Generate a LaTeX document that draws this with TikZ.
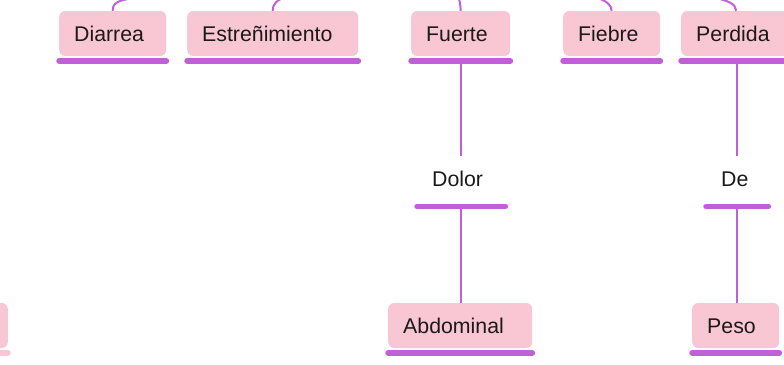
\documentclass[tikz,border=0pt]{standalone}
\usepackage{fontspec}
\setmainfont{Liberation Sans}
\definecolor{boxpink}{HTML}{F9C6D3}
\definecolor{linepurple}{HTML}{C060D6}
\definecolor{txt}{HTML}{1A1A1A}
\begin{document}
\begin{tikzpicture}[x=1pt,y=-1pt,
 box/.style={rounded corners=6pt, fill=boxpink, minimum height=45pt, inner xsep=15pt, inner ysep=0pt,
   align=left, text=txt, font=\fontsize{21.3}{25}\selectfont, text height=15.3pt, text depth=0pt, anchor=west},
 lbl/.style={box, fill=none},
 uline/.style={linepurple, line width=5.5pt, line cap=round},
 conn/.style={linepurple, line width=2pt}]
\useasboundingbox (0,0) rectangle (784,364);
\clip (0,0) rectangle (784,364);
% nodes
\node[box, text width=77pt] (diarrea) at (59,33.5) {Diarrea};
\node[box, text width=141pt] (estr) at (187,33.5) {Estreñimiento};
\node[box, text width=69pt] (fuerte) at (411,33.5) {Fuerte};
\node[box, text width=67pt] (fiebre) at (563,33.5) {Fiebre};
\node[box, text width=80pt] (perdida) at (681,33.5) {Perdida};
\node[lbl, text width=58pt] (dolor) at (417,179) {Dolor};
\node[lbl, text width=32pt] (de) at (706,179) {De};
\node[box, text width=114pt] (abdominal) at (388,325.5) {Abdominal};
\node[box, text width=57pt] (peso) at (692,325.5) {Peso};
\node[box, text width=70pt, anchor=east] (leftbox) at (8,325.5) {};
% underlines
\foreach \n in {diarrea,estr,fuerte,fiebre,perdida,dolor,de,abdominal,peso}{
  \draw[uline] ([yshift=-4.7pt]\n.south west) -- ([yshift=-4.7pt]\n.south east);
}
\draw[uline, boxpink] ([yshift=-4.7pt]leftbox.south west) -- ([yshift=-4.7pt]leftbox.south east);
% off-picture parents
\coordinate (pd) at (135,-2);
\coordinate (pe) at (290,-5);
\coordinate (pf) at (457,-8);
\coordinate (pfi) at (595,-3);
\coordinate (pp) at (710,-3);
% connectors
\draw[conn] (diarrea.north) .. controls (112.5,3) and (118,0) .. (pd);
\draw[conn] (estr.north) .. controls (272.5,4) and (276,0) .. (pe);
\draw[conn] (fuerte.north) .. controls (460.5,4) and (459.5,0) .. (pf);
\draw[conn] (fiebre.north) .. controls (611.5,5) and (607,1) .. (pfi);
\draw[conn] (perdida.north) .. controls (736,4) and (728,0) .. (pp);
\draw[conn] ([yshift=-4.7pt]dolor.north |- fuerte.south) -- (dolor.north);
\draw[conn] ([yshift=-4.7pt]dolor.south) -- (dolor.south |- abdominal.north);
\draw[conn] ([yshift=-4.7pt]de.north |- perdida.south) -- (de.north);
\draw[conn] ([yshift=-4.7pt]de.south) -- (de.south |- peso.north);
\end{tikzpicture}
\end{document}
